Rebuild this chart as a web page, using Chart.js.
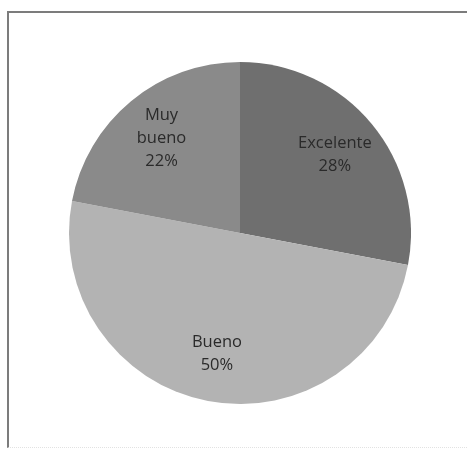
<!DOCTYPE html>
<html>
<head>
<meta charset="utf-8">
<script src="https://cdn.jsdelivr.net/npm/chart.js@4"></script>
<style>
    html, body { margin: 0; padding: 0; background: #fff; }
    body { width: 467px; height: 450px; position: relative; overflow: hidden; }
    .frame {
        position: absolute; left: 7px; top: 11px; width: 470px; height: 434px;
        border-left: 2px solid #7c7c7c; border-top: 2px solid #7c7c7c;
        border-bottom: 1px dotted #e2e2e2;
    }
    #pieChart { position: absolute; left: 69px; top: 62px; }
</style>
</head>
<body>
<div class="frame"></div>
<canvas id="pieChart" width="342" height="342"></canvas>
<script>
const categories = ['Excelente', 'Bueno', 'Muy bueno'];
const percents = [28, 50, 22];
const sliceColors = ['#6f6f6f', '#b3b3b3', '#8a8a8a'];

// draws "name / value%" inside each slice, placed from the arc geometry
const sliceLabels = {
    id: 'sliceLabels',
    afterDatasetsDraw(chart) {
        const ctx = chart.ctx;
        const arcs = chart.getDatasetMeta(0).data;
        ctx.save();
        ctx.font = '16.5px "Open Sans", sans-serif';
        ctx.fillStyle = '#2a2a2a';
        ctx.textAlign = 'center';
        ctx.textBaseline = 'middle';
        arcs.forEach((arc, i) => {
            const p = arc.getProps(['x', 'y', 'startAngle', 'endAngle', 'outerRadius']);
            const mid = (p.startAngle + p.endAngle) / 2;
            const r = p.outerRadius * 0.72;
            const cx = p.x + Math.cos(mid) * r;
            const cy = p.y + Math.sin(mid) * r;
            const lines = categories[i].length > 8 && categories[i].includes(' ')
                ? categories[i].split(' ') : [categories[i]];
            lines.push(percents[i] + '%');
            const lh = 23;
            const top = cy - (lines.length - 1) * lh / 2;
            lines.forEach((t, j) => ctx.fillText(t, cx, top + j * lh));
        });
        ctx.restore();
    }
};

document.addEventListener('DOMContentLoaded', () => {
    const pieCtx = document.getElementById('pieChart').getContext('2d');
    new Chart(pieCtx, {
        type: 'pie',
        data: {
            labels: categories,
            datasets: [{
                data: percents,
                backgroundColor: sliceColors,
                borderWidth: 0
            }]
        },
        options: {
            responsive: false,
            animation: false,
            layout: { padding: 0 },
            plugins: {
                legend: { display: false },
                tooltip: { enabled: false }
            }
        },
        plugins: [sliceLabels]
    });
});
</script>
</body>
</html>
